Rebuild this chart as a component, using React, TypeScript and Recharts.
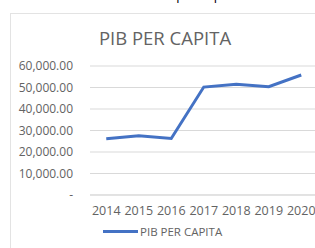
import React from 'react';
import { LineChart, Line, XAxis, YAxis, CartesianGrid } from 'recharts';

const years = ['2014', '2015', '2016', '2017', '2018', '2019', '2020'];
const pibPerCapita = [26200, 27600, 26300, 50200, 51500, 50400, 55800];
const yTicks = [0, 10000, 20000, 30000, 40000, 50000, 60000];
const seriesName = 'PIB PER CAPITA';

const data = years.map((year, i) => ({ year, pib: pibPerCapita[i] }));

const FONT = '"Open Sans", sans-serif';
const BLUE = '#4472C4';
const GREY_TEXT = '#636363';

const fmt = (v: number) =>
  v === 0 ? '-' : v.toLocaleString('en-US', { minimumFractionDigits: 2, maximumFractionDigits: 2 });

export default function App() {
  return (
    <div style={{ position: 'fixed', left: 0, top: 0, width: 315, height: 248, overflow: 'hidden', background: '#fff' }}>
      <div
        style={{
          position: 'absolute',
          top: -11,
          left: 0,
          width: 332,
          textAlign: 'center',
          fontFamily: FONT,
          fontSize: 13,
          lineHeight: '13px',
          color: '#000',
        }}
      >
        Gráfico 1 PIB per cápita
      </div>
      <div
        style={{
          position: 'absolute',
          left: 10,
          top: 13,
          width: 400,
          height: 300,
          border: '1px solid #e3e3e3',
        }}
      />
      <div
        style={{
          position: 'absolute',
          top: 26,
          left: 0,
          width: 330,
          textAlign: 'center',
          fontFamily: FONT,
          fontSize: 18.5,
          lineHeight: '24px',
          color: GREY_TEXT,
        }}
      >
        {seriesName}
      </div>
      <div style={{ position: 'absolute', left: 0, top: 0 }}>
        <LineChart width={340} height={248} data={data} margin={{ top: 66, right: 22.5, left: 0, bottom: 0 }}>
          <CartesianGrid vertical={false} stroke="#d9d9d9" />
          <XAxis
            dataKey="year"
            axisLine={{ stroke: '#d9d9d9' }}
            tickLine={false}
            tickSize={0}
            tickMargin={11}
            height={53}
            padding={{ left: 16.25, right: 16.25 }}
            tick={{ fill: GREY_TEXT, fontSize: 12.5, fontFamily: FONT }}
            interval={0}
          />
          <YAxis
            domain={[0, 60000]}
            ticks={yTicks}
            interval={0}
            tickFormatter={fmt}
            axisLine={false}
            tickLine={false}
            tickSize={0}
            tickMargin={17}
            width={90}
            tick={{ fill: GREY_TEXT, fontSize: 12, fontFamily: FONT }}
          />
          <Line
            type="linear"
            dataKey="pib"
            name={seriesName}
            stroke={BLUE}
            strokeWidth={3}
            dot={false}
            isAnimationActive={false}
          />
        </LineChart>
      </div>
      <div
        style={{
          position: 'absolute',
          left: 103,
          top: 224,
          display: 'flex',
          alignItems: 'center',
          fontFamily: FONT,
          fontSize: 11.5,
          color: GREY_TEXT,
        }}
      >
        <span style={{ display: 'inline-block', width: 35, height: 3, background: BLUE, marginRight: 2 }} />
        <span>{seriesName}</span>
      </div>
    </div>
  );
}
